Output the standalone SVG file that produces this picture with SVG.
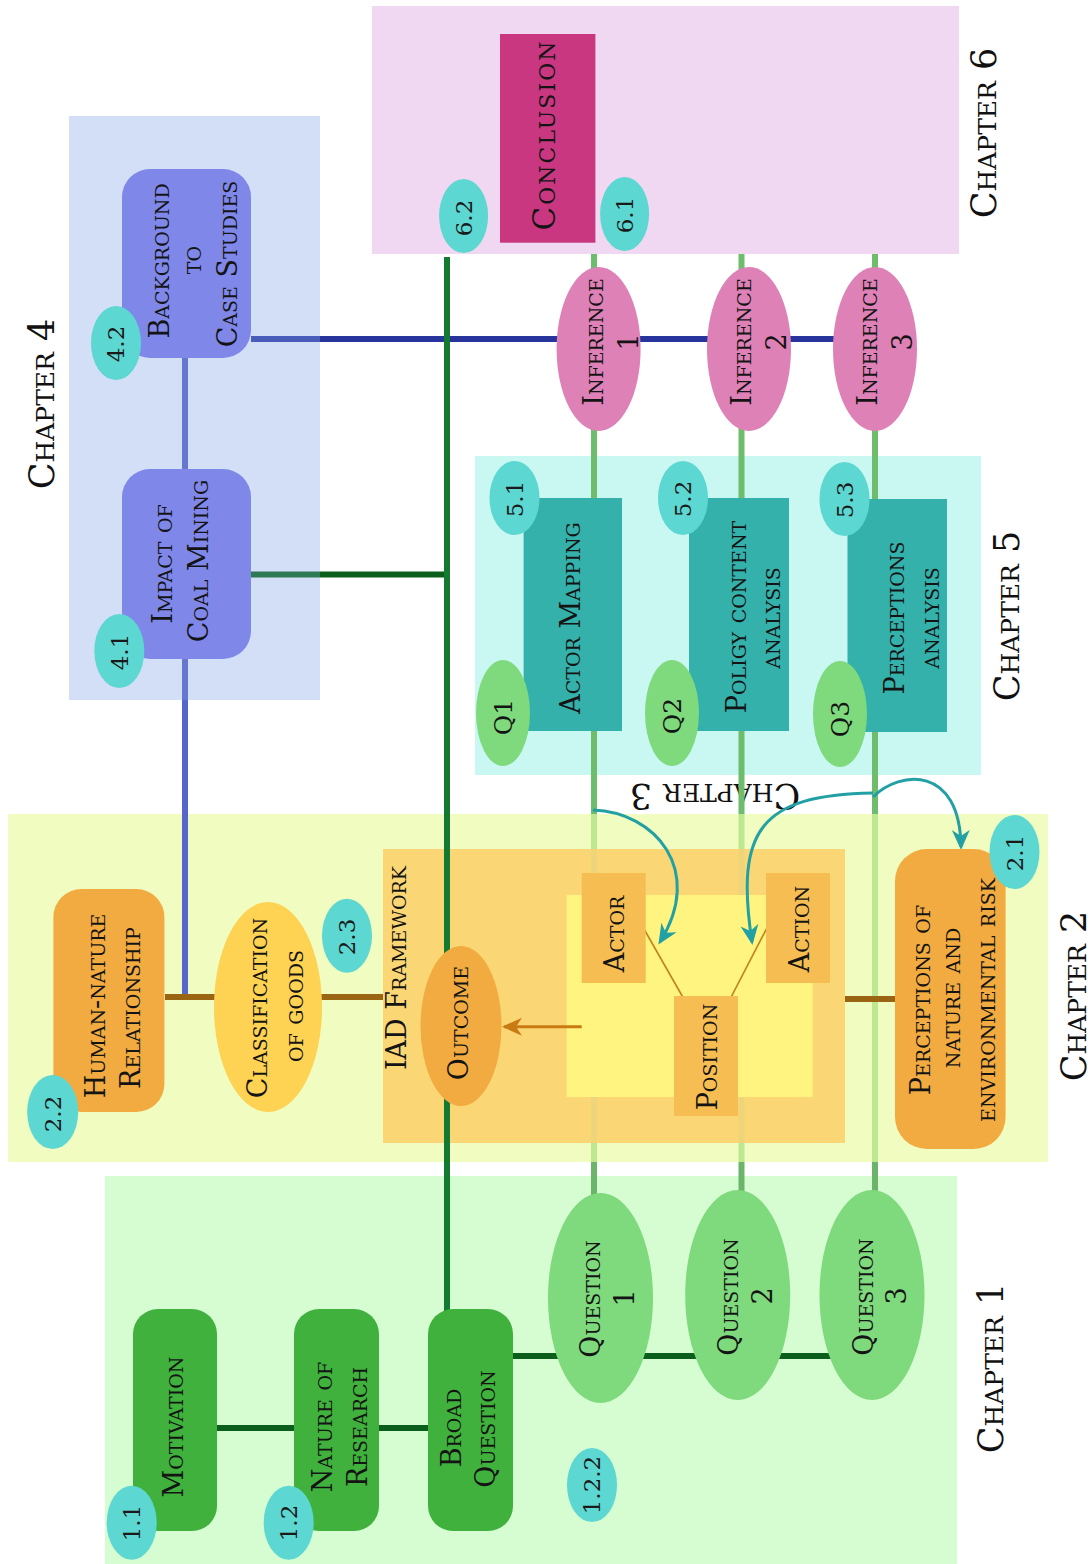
<svg xmlns="http://www.w3.org/2000/svg" width="1091" height="1564" viewBox="0 0 1091 1564">
  <style>
    .t { font-family: "DejaVu Serif", "Liberation Serif", serif; font-size: 27px; font-variant: small-caps; text-anchor: middle; fill: #141414; }
    .ch { font-size: 35px; fill: #111; }
    .big { font-size: 31px; letter-spacing: 2px; }
    .b { font-family: "DejaVu Serif", "Liberation Serif", serif; font-size: 23px; text-anchor: middle; fill: #1a1a1a; }
    .q { font-size: 25px; }
    .badge { fill: #5dd7d1; }
    .green-node { fill: #3fb13c; }
    .q-node { fill: #7fd97d; }
    .orange-node { fill: #f2ab40; }
    .iad-part { fill: #f6be52; }
    .blue-node { fill: #7f88e9; }
    .teal-node { fill: #35b1ab; }
    .inf-node { fill: #de81b6; }
    .ln { fill: none; stroke-width: 6; }
    .qline { stroke: #6dbd6d; stroke-width: 6; }
    .qline-c2 { stroke: #bde790; stroke-width: 6; }
    .qline-iad { stroke: #eed57a; stroke-width: 6; }
    .dk { stroke: #0c5e1c; }
    .teal-arrow { fill: none; stroke: #23a0a3; stroke-width: 3; marker-end: url(#ah-teal); }
  </style>
  <defs>
    <marker id="ah-teal" viewBox="0 0 20 20" refX="17" refY="10" markerWidth="20" markerHeight="20" markerUnits="userSpaceOnUse" orient="auto">
      <path d="M0,1 L20,10 L0,19 L6,10 Z" fill="#23a0a3"/>
    </marker>
    <marker id="ah-orange" viewBox="0 0 20 20" refX="18" refY="10" markerWidth="20" markerHeight="20" markerUnits="userSpaceOnUse" orient="auto">
      <path d="M0,1 L20,10 L0,19 L6,10 Z" fill="#c97a12"/>
    </marker>
  </defs>

  <!-- chapter panels -->
  <g id="chapters">
    <rect x="105" y="1176" width="852" height="388" fill="#d6fcd2"/>
    <rect x="8" y="814" width="1040" height="348" fill="#f1fcc0"/>
    <rect x="69" y="116" width="251" height="584" fill="#d3dff6"/>
    <rect x="475" y="456" width="506" height="319" fill="#c9f7f2"/>
    <rect x="372" y="6" width="587" height="248" fill="#f1d8f2"/>
    <rect id="iad-frame" x="383" y="849" width="462" height="294" fill="#fad774"/>
    <rect id="iad-core" x="566.7" y="895" width="246" height="202" fill="#fff47f"/>
    <text class="t ch" transform="translate(1003,1368) rotate(-90)">Chapter 1</text>
    <text class="t ch" transform="translate(1086,996) rotate(-90)">Chapter 2</text>
    <text class="t ch" transform="translate(715,784) rotate(180)">Chapter 3</text>
    <text class="t ch" transform="translate(54,404) rotate(-90)">Chapter 4</text>
    <text class="t ch" transform="translate(1019,616) rotate(-90)">Chapter 5</text>
    <text class="t ch" transform="translate(996,133) rotate(-90)">Chapter 6</text>
  </g>

  <!-- connectors -->
  <g id="connectors">
    <!-- research-question threads -->
    <g>
      <line class="qline" x1="594" y1="254" x2="594" y2="300"/>
      <line class="qline" x1="741.5" y1="254" x2="741.5" y2="300"/>
      <line class="qline" x1="875" y1="254" x2="875" y2="300"/>
      <line class="qline" x1="594" y1="400" x2="594" y2="814"/>
      <line class="qline" x1="741.5" y1="400" x2="741.5" y2="814"/>
      <line class="qline" x1="875" y1="400" x2="875" y2="814"/>
      <line class="qline-c2" x1="594" y1="814" x2="594" y2="849"/>
      <line class="qline-c2" x1="741.5" y1="814" x2="741.5" y2="849"/>
      <line class="qline-c2" x1="875" y1="814" x2="875" y2="1162"/>
      <line class="qline-iad" x1="594" y1="849" x2="594" y2="895"/>
      <line class="qline-iad" x1="741.5" y1="849" x2="741.5" y2="895"/>
      <line class="qline-iad" x1="594" y1="1097" x2="594" y2="1143"/>
      <line class="qline-iad" x1="741.5" y1="1097" x2="741.5" y2="1143"/>
      <line class="qline-c2" x1="594" y1="1143" x2="594" y2="1162"/>
      <line class="qline-c2" x1="741.5" y1="1143" x2="741.5" y2="1162"/>
      <line stroke="#6ab56a" stroke-width="6" x1="594" y1="1162" x2="594" y2="1230"/>
      <line stroke="#6ab56a" stroke-width="6" x1="741.5" y1="1162" x2="741.5" y2="1230"/>
      <line stroke="#6ab56a" stroke-width="6" x1="875" y1="1162" x2="875" y2="1230"/>
    </g>
    <!-- chapter 1 links -->
    <line class="ln dk" x1="217" y1="1428" x2="428" y2="1428"/>
    <line class="ln dk" x1="513" y1="1356" x2="872" y2="1356"/>
    <!-- chapter 4 links -->
    <line class="ln" stroke="#4a5cb9" stroke-width="7" x1="251" y1="339" x2="320" y2="339"/>
    <line class="ln" stroke="#27349b" stroke-width="7" x1="320" y1="339" x2="860" y2="339"/>
    <line class="ln" stroke="#6677cf" x1="185" y1="358" x2="185" y2="469"/>
    <line class="ln" stroke="#6677cf" x1="185" y1="659" x2="185" y2="700"/>
    <line class="ln" stroke="#5566cc" x1="185" y1="700" x2="185" y2="997"/>
    <line class="ln" stroke="#2e7a55" x1="251" y1="574.5" x2="320" y2="574.5"/>
    <line class="ln dk" x1="320" y1="574.5" x2="447" y2="574.5"/>
    <!-- main trunk from broad question -->
    <line class="ln" stroke="#137a32" x1="447" y1="257" x2="447" y2="1312"/>
    <!-- chapter 2 links -->
    <line class="ln" stroke="#9a6512" x1="165" y1="997" x2="383" y2="997"/>
    <line class="ln" stroke="#9a6512" x1="845" y1="999" x2="895" y2="999"/>
    <!-- chapter 3 method arrows -->
    <path class="teal-arrow" d="M593,810 C655,812 705,870 660,942"/>
    <path class="teal-arrow" d="M873,793 C760,795 735,830 752,942"/>
    <path class="teal-arrow" d="M873,797 C900,770 960,765 961,847"/>
  </g>

  <!-- chapter 1 -->
  <g id="motivation">
    <rect class="green-node" x="133" y="1309" width="84" height="222" rx="25"/>
    <text class="t" transform="translate(182.5,1427) rotate(-90)">Motivation</text>
  </g>
  <g id="nature-of-research">
    <rect class="green-node" x="294" y="1309" width="85" height="222" rx="25"/>
    <text class="t" transform="translate(332,1427) rotate(-90)">Nature of</text>
    <text class="t" transform="translate(366.5,1427) rotate(-90)">Research</text>
  </g>
  <g id="broad-question">
    <rect class="green-node" x="428" y="1309" width="85" height="222" rx="25"/>
    <text class="t" transform="translate(461,1428) rotate(-90)">Broad</text>
    <text class="t" transform="translate(495,1429) rotate(-90)">Question</text>
  </g>
  <g id="question-1">
    <ellipse class="q-node" cx="600.5" cy="1298" rx="52.5" ry="105"/>
    <text class="t" transform="translate(600,1299) rotate(-90)">Question</text>
    <text class="t" transform="translate(634,1298) rotate(-90)">1</text>
  </g>
  <g id="question-2">
    <ellipse class="q-node" cx="737.7" cy="1295" rx="52.5" ry="105"/>
    <text class="t" transform="translate(738,1297) rotate(-90)">Question</text>
    <text class="t" transform="translate(772,1296) rotate(-90)">2</text>
  </g>
  <g id="question-3">
    <ellipse class="q-node" cx="872" cy="1295" rx="52.5" ry="105"/>
    <text class="t" transform="translate(873,1297) rotate(-90)">Question</text>
    <text class="t" transform="translate(906,1296) rotate(-90)">3</text>
  </g>
  <g id="badge-1-1">
    <ellipse class="badge" cx="131.7" cy="1522.7" rx="25" ry="37"/>
    <text class="b" transform="translate(140,1523) rotate(-90)">1.1</text>
  </g>
  <g id="badge-1-2">
    <ellipse class="badge" cx="288.7" cy="1522.7" rx="25" ry="37"/>
    <text class="b" transform="translate(297,1523) rotate(-90)">1.2</text>
  </g>
  <g id="badge-1-2-2">
    <ellipse class="badge" cx="592" cy="1485" rx="25" ry="37"/>
    <text class="b" transform="translate(600.4,1485) rotate(-90)">1.2.2</text>
  </g>

  <!-- chapter 2 -->
  <g id="human-nature">
    <rect class="orange-node" x="53.4" y="889" width="111" height="223" rx="28"/>
    <text class="t" transform="translate(105,1006) rotate(-90)">Human-nature</text>
    <text class="t" transform="translate(140,1008) rotate(-90)">Relationship</text>
  </g>
  <g id="classification-of-goods">
    <ellipse cx="268" cy="1007" rx="54" ry="105" fill="#fed253"/>
    <text class="t" transform="translate(267,1008) rotate(-90)">Classification</text>
    <text class="t" transform="translate(303,1006) rotate(-90)">of goods</text>
  </g>
  <g id="iad-framework">
    <text class="t" transform="translate(406,968) rotate(-90)">IAD Framework</text>
    <line x1="641.7" y1="925" x2="687.3" y2="1005" stroke="#c0821e" stroke-width="1.6"/>
    <line x1="769.3" y1="923.3" x2="726.7" y2="1005.7" stroke="#c0821e" stroke-width="1.6"/>
    <line x1="581.7" y1="1026.7" x2="504" y2="1026.7" stroke="#c97a12" stroke-width="3" marker-end="url(#ah-orange)"/>
  </g>
  <g id="outcome">
    <ellipse class="orange-node" cx="461" cy="1026" rx="40.5" ry="80"/>
    <text class="t" transform="translate(468,1023) rotate(-90)">Outcome</text>
  </g>
  <g id="actor">
    <rect class="iad-part" x="581.7" y="873" width="64" height="110"/>
    <text class="t" transform="translate(624,934) rotate(-90)">Actor</text>
  </g>
  <g id="action">
    <rect class="iad-part" x="766" y="873" width="64" height="110"/>
    <text class="t" transform="translate(809,929) rotate(-90)">Action</text>
  </g>
  <g id="position">
    <rect class="iad-part" x="674" y="996" width="64" height="120"/>
    <text class="t" transform="translate(717,1057) rotate(-90)">Position</text>
  </g>
  <g id="perceptions-of-nature">
    <rect class="orange-node" x="895" y="849" width="110.6" height="300" rx="32"/>
    <text class="t" transform="translate(930,1000) rotate(-90)">Perceptions of</text>
    <text class="t" transform="translate(960,998) rotate(-90)">nature and</text>
    <text class="t" transform="translate(995,1000) rotate(-90)">environmental risk</text>
  </g>
  <g id="badge-2-1">
    <ellipse class="badge" cx="1014.5" cy="852" rx="25" ry="37"/>
    <text class="b" transform="translate(1023,853) rotate(-90)">2.1</text>
  </g>
  <g id="badge-2-2">
    <ellipse class="badge" cx="52.7" cy="1112" rx="25.5" ry="37"/>
    <text class="b" transform="translate(61,1114) rotate(-90)">2.2</text>
  </g>
  <g id="badge-2-3">
    <ellipse class="badge" cx="347" cy="935.7" rx="25" ry="37"/>
    <text class="b" transform="translate(355.4,937) rotate(-90)">2.3</text>
  </g>

  <!-- chapter 4 -->
  <g id="background-case-studies">
    <rect class="blue-node" x="122" y="169" width="129" height="189" rx="28"/>
    <text class="t" transform="translate(169,261) rotate(-90)">Background</text>
    <text class="t" transform="translate(201,260) rotate(-90)">to</text>
    <text class="t" transform="translate(237,264) rotate(-90)">Case Studies</text>
  </g>
  <g id="impact-coal-mining">
    <rect class="blue-node" x="122" y="469" width="129" height="190" rx="28"/>
    <text class="t" transform="translate(172,564) rotate(-90)">Impact of</text>
    <text class="t" transform="translate(208,561) rotate(-90)">Coal Mining</text>
  </g>
  <g id="badge-4-2">
    <ellipse class="badge" cx="116" cy="343" rx="25" ry="37"/>
    <text class="b" transform="translate(124.4,344) rotate(-90)">4.2</text>
  </g>
  <g id="badge-4-1">
    <ellipse class="badge" cx="119.3" cy="651" rx="25" ry="37"/>
    <text class="b" transform="translate(127.7,652) rotate(-90)">4.1</text>
  </g>

  <!-- chapter 5 -->
  <g id="actor-mapping">
    <rect class="teal-node" x="523.6" y="498" width="98.4" height="233"/>
    <text class="t" transform="translate(580,618) rotate(-90)">Actor Mapping</text>
  </g>
  <g id="policy-content-analysis">
    <rect class="teal-node" x="689" y="498" width="100" height="233"/>
    <text class="t" transform="translate(746,617) rotate(-90)">Poligy content</text>
    <text class="t" transform="translate(780,618) rotate(-90)">analysis</text>
  </g>
  <g id="perceptions-analysis">
    <rect class="teal-node" x="847.5" y="499" width="99.5" height="233"/>
    <text class="t" transform="translate(904,618) rotate(-90)">Perceptions</text>
    <text class="t" transform="translate(939,618) rotate(-90)">analysis</text>
  </g>
  <g id="badge-5-1">
    <ellipse class="badge" cx="514.5" cy="498" rx="25" ry="37"/>
    <text class="b" transform="translate(523,499) rotate(-90)">5.1</text>
  </g>
  <g id="badge-5-2">
    <ellipse class="badge" cx="683" cy="498" rx="25" ry="37"/>
    <text class="b" transform="translate(691.4,499) rotate(-90)">5.2</text>
  </g>
  <g id="badge-5-3">
    <ellipse class="badge" cx="844.5" cy="499" rx="25" ry="37"/>
    <text class="b" transform="translate(853,500) rotate(-90)">5.3</text>
  </g>
  <g id="q1">
    <ellipse class="q-node" cx="503" cy="713" rx="27" ry="53"/>
    <text class="t q" transform="translate(512,717) rotate(-90)">Q1</text>
  </g>
  <g id="q2">
    <ellipse class="q-node" cx="672" cy="713" rx="27" ry="53"/>
    <text class="t q" transform="translate(681,716) rotate(-90)">Q2</text>
  </g>
  <g id="q3">
    <ellipse class="q-node" cx="840" cy="714" rx="27" ry="53"/>
    <text class="t q" transform="translate(849,719) rotate(-90)">Q3</text>
  </g>

  <!-- inferences -->
  <g id="inference-1">
    <ellipse class="inf-node" cx="598.6" cy="349" rx="42" ry="82"/>
    <text class="t" transform="translate(603,342) rotate(-90)">Inference</text>
    <text class="t" transform="translate(638,342) rotate(-90)">1</text>
  </g>
  <g id="inference-2">
    <ellipse class="inf-node" cx="749" cy="349" rx="42" ry="82"/>
    <text class="t" transform="translate(751,342) rotate(-90)">Inference</text>
    <text class="t" transform="translate(786,342) rotate(-90)">2</text>
  </g>
  <g id="inference-3">
    <ellipse class="inf-node" cx="875" cy="349" rx="42" ry="82"/>
    <text class="t" transform="translate(877,342) rotate(-90)">Inference</text>
    <text class="t" transform="translate(912,342) rotate(-90)">3</text>
  </g>

  <!-- chapter 6 -->
  <g id="conclusion">
    <rect x="500" y="34" width="95.4" height="208.7" fill="#c83780"/>
    <text class="t big" transform="translate(555,135) rotate(-90)">Conclusion</text>
  </g>
  <g id="badge-6-2">
    <ellipse class="badge" cx="463.6" cy="216" rx="24.5" ry="37"/>
    <text class="b" transform="translate(472,218) rotate(-90)">6.2</text>
  </g>
  <g id="badge-6-1">
    <ellipse class="badge" cx="624.6" cy="214" rx="24.5" ry="37"/>
    <text class="b" transform="translate(633,215) rotate(-90)">6.1</text>
  </g>
</svg>
